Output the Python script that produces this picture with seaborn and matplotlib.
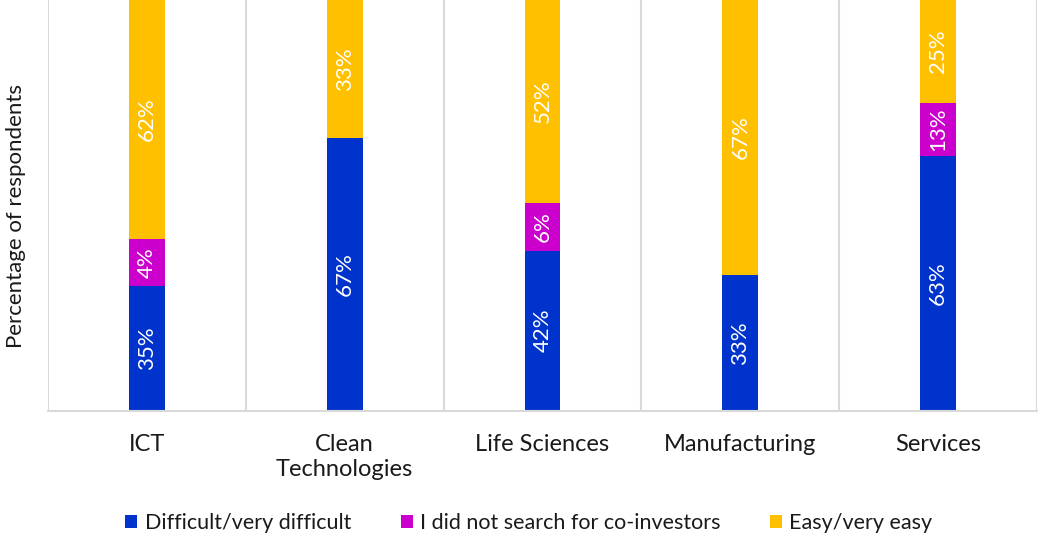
import matplotlib
matplotlib.use("Agg")
import matplotlib.pyplot as plt
import seaborn as sns
import numpy as np
import pandas as pd
from matplotlib.patches import Patch

categories = ["ICT", "Clean\nTechnologies", "Life Sciences", "Manufacturing", "Services"]
series_names = ["Difficult/very difficult", "I did not search for co-investors", "Easy/very easy"]
difficult = [30.3, 66.5, 38.9, 33.0, 62.1]
not_searched = [11.6, 0.0, 11.7, 0.0, 12.8]
easy = [58.1, 33.5, 49.4, 67.0, 25.1]
difficult_labels = ["35%", "67%", "42%", "33%", "63%"]
not_searched_labels = ["4%", "", "6%", "", "13%"]
easy_labels = ["62%", "33%", "52%", "67%", "25%"]
colors = ["#0033CC", "#CC00CC", "#FFC000"]

sns.set_theme(style="white")
plt.rcParams["font.family"] = ["Lato", "DejaVu Sans"]

fig = plt.figure(figsize=(10.39, 5.39), dpi=100)
ax = fig.add_axes([48 / 1039, 128.5 / 539, 989 / 1039, 410.5 / 539])

d = np.array(difficult)
n = np.array(not_searched)
e = np.array(easy)
df = pd.DataFrame({"cat": categories, "d": d, "dn": d + n, "dne": d + n + e})

bw = 0.182
sns.barplot(data=df, x="cat", y="dne", color=colors[2], width=bw, ax=ax, saturation=1, linewidth=0)
sns.barplot(data=df, x="cat", y="dn", color=colors[1], width=bw, ax=ax, saturation=1, linewidth=0)
sns.barplot(data=df, x="cat", y="d", color=colors[0], width=bw, ax=ax, saturation=1, linewidth=0)

lab_kw = dict(color="white", rotation=90, ha="center", va="center", fontsize=16)
for i in range(len(categories)):
    if difficult_labels[i]:
        ax.text(i, d[i] / 2, difficult_labels[i], **lab_kw)
    if not_searched_labels[i]:
        ax.text(i, d[i] + n[i] / 2, not_searched_labels[i], **lab_kw)
    if easy_labels[i]:
        ax.text(i, d[i] + n[i] + e[i] / 2, easy_labels[i], **lab_kw)

ax.set_ylim(0, 100)
ax.set_xlim(-0.5, len(categories) - 0.5)
for b in np.arange(-0.5, len(categories), 1.0):
    ax.axvline(b, color="#D9D9D9", lw=1.5, zorder=0)
for s in ["top", "left", "right"]:
    ax.spines[s].set_visible(False)
ax.spines["bottom"].set_color("#D9D9D9")
ax.spines["bottom"].set_linewidth(1.5)
ax.set_yticks([])
ax.set_xlabel("")
ax.set_ylabel("Percentage of respondents", fontsize=16, color="#1a1a1a")
ax.yaxis.set_label_coords(-0.022, 0.475)
ax.tick_params(axis="x", length=0, pad=17, labelsize=17, labelcolor="#1a1a1a")
for t in ax.get_xticklabels():
    t.set_va("top")
    t.set_ha("center")
    t.set_multialignment("center")
    t.set_linespacing(1.25)

handles = [Patch(facecolor=c, edgecolor="none") for c in colors]
fig.legend(handles, series_names, loc="center", bbox_to_anchor=(529 / 1039, 1 - 523 / 539),
           ncol=3, frameon=False, fontsize=15.5, handlelength=0.55, handleheight=0.55,
           handletextpad=0.35, columnspacing=2.3, labelcolor="#1a1a1a")

fig.savefig("out.png", dpi=100)
